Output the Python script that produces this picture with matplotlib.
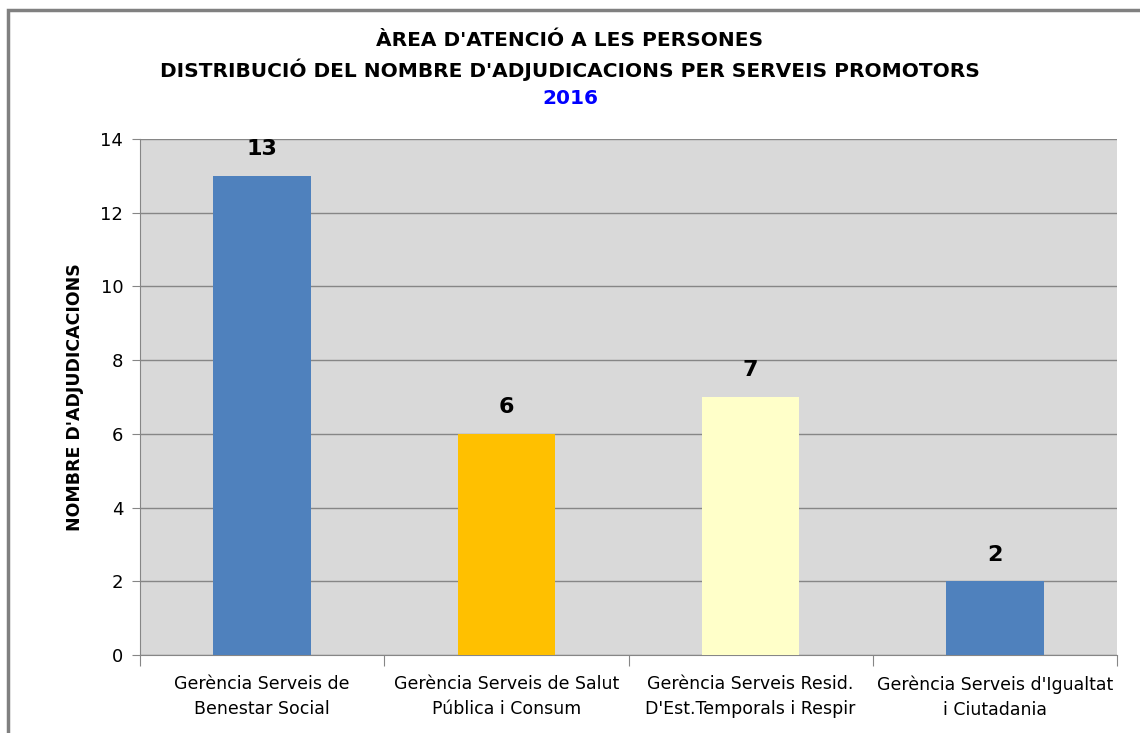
import matplotlib.pyplot as plt
from matplotlib.patches import Rectangle

# ---- data ----
categories = [
    "Gerència Serveis de\nBenestar Social",
    "Gerència Serveis de Salut\nPública i Consum",
    "Gerència Serveis Resid.\nD'Est.Temporals i Respir",
    "Gerència Serveis d'Igualtat\ni Ciutadania",
]
values = [13, 6, 7, 2]
bar_colors = ["#4F81BD", "#FFC000", "#FFFFC9", "#4F81BD"]
yticks = [0, 2, 4, 6, 8, 10, 12, 14]

font = ["DejaVu Sans"]

fig = plt.figure(figsize=(11.4, 7.33), dpi=100)
ax = fig.add_axes([140 / 1140, 1 - 655 / 733, (1117 - 140) / 1140, (655 - 139) / 733])

# outer chart frame (only left and top edges visible)
fig.add_artist(Rectangle((8 / 1140, -0.05), 1.1, 1 - 10 / 733 + 0.05,
                         transform=fig.transFigure, fill=False,
                         edgecolor="#808080", linewidth=2.5))

x = range(len(categories))
ax.set_facecolor("#D9D9D9")
ax.bar(x, values, width=0.4, color=bar_colors, zorder=3)
ax.set_xlim(-0.5, len(categories) - 0.5)
ax.set_ylim(0, 14)
ax.set_yticks(yticks)
ax.yaxis.grid(True, color="#868686", linewidth=1, zorder=0)
ax.set_axisbelow(True)

for xi, v in zip(x, values):
    ax.text(xi, v + 0.45, str(v), ha="center", va="bottom",
            fontsize=16, fontweight="bold", family=font)

# category labels, tick marks at boundaries
ax.set_xticks([i - 0.5 for i in range(len(categories) + 1)])
ax.set_xticklabels([])
ax.tick_params(axis="x", length=8, color="#868686")
for xi, lab in zip(x, categories):
    ax.text(xi, -0.55, lab, ha="center", va="top", fontsize=12.5,
            family=font, linespacing=1.5)

ax.tick_params(axis="y", length=6, color="#868686", labelsize=13, pad=6)
for s in ["top", "right"]:
    ax.spines[s].set_visible(False)
ax.spines["left"].set_color("#868686")
ax.spines["bottom"].set_color("#868686")

ax.set_ylabel("NOMBRE D'ADJUDICACIONS", fontsize=12.5, fontweight="bold",
              family=font, labelpad=12)

fig.text(0.5, 1 - 40 / 733, "ÀREA D'ATENCIÓ A LES PERSONES", ha="center",
         va="center", fontsize=14.5, fontweight="bold", family=font)
fig.text(0.5, 1 - 70 / 733, "DISTRIBUCIÓ DEL NOMBRE D'ADJUDICACIONS PER SERVEIS PROMOTORS",
         ha="center", va="center", fontsize=14.5, fontweight="bold", family=font)
fig.text(0.5, 1 - 99 / 733, "2016", ha="center", va="center", fontsize=14.5,
         fontweight="bold", color="#0000FF", family=font)

fig.savefig("out.png", dpi=100)
